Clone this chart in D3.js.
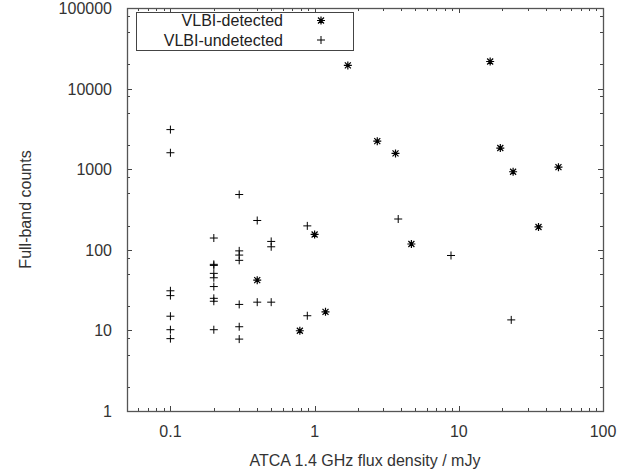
<!DOCTYPE html>
<html>
<head>
<meta charset="utf-8">
<script src="https://cdn.jsdelivr.net/npm/d3@7"></script>
<style>
body { margin: 0; background: #fff; }
svg { display: block; font-family: "Liberation Sans", Arial, sans-serif; }
.tick-label { font-size: 16px; fill: #333; }
.axis-title { font-size: 16px; fill: #333; }
.legend text { font-size: 16px; fill: #222; }
</style>
</head>
<body>
<script>
// VLBI-detected sources (asterisks)
var detFlux   = [0.4, 0.79, 1.0, 1.19, 1.7, 2.72, 3.64, 4.69, 16.5, 19.4, 23.8, 35.7, 49.1];
var detCounts = [42, 9.9, 155, 17, 19400, 2230, 1570, 118, 21700, 1830, 930, 192, 1060];

// VLBI-undetected sources (plus signs)
var undetFlux   = [0.1, 0.1, 0.1, 0.1, 0.1, 0.1, 0.1,
                   0.2, 0.2, 0.2, 0.2, 0.2, 0.2, 0.2, 0.2, 0.2,
                   0.3, 0.3, 0.3, 0.3, 0.3, 0.3, 0.3,
                   0.4, 0.4, 0.5, 0.5, 0.5, 0.89, 0.89, 3.8, 8.83, 23.1];
var undetCounts = [3100, 1600, 31, 27, 15, 10.2, 7.9,
                   140, 66, 64, 51, 45, 35, 25, 23, 10.2,
                   485, 97, 86, 74, 21, 11.1, 7.8,
                   231, 22.4, 127, 109, 22.4, 198, 15.2, 241, 85, 13.5];

var xTicks = [0.1, 1, 10, 100];
var yTicks = [1, 10, 100, 1000, 10000, 100000];
var legendLabels = ["VLBI-detected", "VLBI-undetected"];

var width = 643, height = 474;
var margin = {top: 8, right: 40, bottom: 63, left: 127};
var w = width - margin.left - margin.right,
    h = height - margin.top - margin.bottom;

var x = d3.scaleLog().domain([0.05, 100]).range([0, w]);
var y = d3.scaleLog().domain([1, 100000]).range([h, 0]);

var svg = d3.select("body").append("svg")
    .attr("width", width)
    .attr("height", height);

var g = svg.append("g")
    .attr("transform", "translate(" + margin.left + "," + margin.top + ")");

// minor ticks: x at 2..9 per decade, y at 2,5,8 per decade
var xMinor = [], yMinor = [];
[0.01, 0.1, 1, 10].forEach(function(d) {
  for (var k = 2; k <= 9; k++) {
    var v = d * k;
    if (v > 0.05 && v < 100) xMinor.push(v);
  }
});
[1, 10, 100, 1000, 10000].forEach(function(d) {
  [2, 5, 8].forEach(function(k) { yMinor.push(d * k); });
});

var tickColor = "#444";
var major = 5, minor = 3;

function xTickLines(vals, len) {
  vals.forEach(function(v) {
    var px = Math.round(x(v)) + 0.5;
    g.append("line").attr("x1", px).attr("x2", px).attr("y1", h).attr("y2", h - len)
      .attr("stroke", tickColor);
    g.append("line").attr("x1", px).attr("x2", px).attr("y1", 0).attr("y2", len)
      .attr("stroke", tickColor);
  });
}
function yTickLines(vals, len) {
  vals.forEach(function(v) {
    var py = Math.round(y(v)) + 0.5;
    g.append("line").attr("x1", 0).attr("x2", len).attr("y1", py).attr("y2", py)
      .attr("stroke", tickColor);
    g.append("line").attr("x1", w).attr("x2", w - len).attr("y1", py).attr("y2", py)
      .attr("stroke", tickColor);
  });
}
xTickLines(xTicks, major);
xTickLines(xMinor, minor);
yTickLines(yTicks, major);
yTickLines(yMinor, minor);

// tick labels
g.selectAll(".xl").data(xTicks).enter().append("text")
    .attr("class", "tick-label")
    .attr("x", function(d) { return x(d); })
    .attr("y", h + 26)
    .attr("text-anchor", "middle")
    .text(function(d) { return d; });

g.selectAll(".yl").data(yTicks).enter().append("text")
    .attr("class", "tick-label")
    .attr("x", -15)
    .attr("y", function(d) { return y(d) + 6; })
    .attr("text-anchor", "end")
    .text(function(d) { return d; });

// border
g.append("rect")
    .attr("x", 0.5).attr("y", 0.5)
    .attr("width", w).attr("height", h)
    .attr("fill", "none")
    .attr("stroke", "#555")
    .attr("stroke-width", 1.3);

// axis titles
svg.append("text")
    .attr("class", "axis-title")
    .attr("x", margin.left + w / 2)
    .attr("y", 466)
    .attr("text-anchor", "middle")
    .text("ATCA 1.4 GHz flux density / mJy");

svg.append("text")
    .attr("class", "axis-title")
    .attr("transform", "translate(31," + (margin.top + h / 2) + ") rotate(-90)")
    .attr("text-anchor", "middle")
    .text("Full-band counts");

// marker shapes
var s = 4;
function plusPath() {
  return "M" + (-s) + ",0H" + s + "M0," + (-s) + "V" + s;
}
function starPath() {
  var d = s * 0.75;
  return plusPath() + "M" + (-d) + "," + (-d) + "L" + d + "," + d +
         "M" + (-d) + "," + d + "L" + d + "," + (-d);
}

var undet = undetFlux.map(function(v, i) { return [v, undetCounts[i]]; });
var det = detFlux.map(function(v, i) { return [v, detCounts[i]]; });

g.selectAll(".undet").data(undet).enter().append("path")
    .attr("transform", function(d) { return "translate(" + x(d[0]) + "," + y(d[1]) + ")"; })
    .attr("d", plusPath())
    .attr("stroke", "#000")
    .attr("stroke-width", 1)
    .attr("fill", "none");

g.selectAll(".det").data(det).enter().append("path")
    .attr("transform", function(d) { return "translate(" + x(d[0]) + "," + y(d[1]) + ")"; })
    .attr("d", starPath())
    .attr("stroke", "#000")
    .attr("stroke-width", 1.2)
    .attr("fill", "none");

// legend
var legend = svg.append("g").attr("class", "legend");
legend.append("rect")
    .attr("x", 136.5).attr("y", 12.5)
    .attr("width", 217).attr("height", 38)
    .attr("fill", "#fff")
    .attr("stroke", "#444");

legendLabels.forEach(function(lab, i) {
  var ly = 20.5 + i * 19.5;
  legend.append("text")
      .attr("x", 283)
      .attr("y", ly + 5.5)
      .attr("text-anchor", "end")
      .text(lab);
  legend.append("path")
      .attr("transform", "translate(321," + ly + ")")
      .attr("d", i === 0 ? starPath() : plusPath())
      .attr("stroke", "#000")
      .attr("stroke-width", i === 0 ? 1.2 : 1)
      .attr("fill", "none");
});
</script>
</body>
</html>
